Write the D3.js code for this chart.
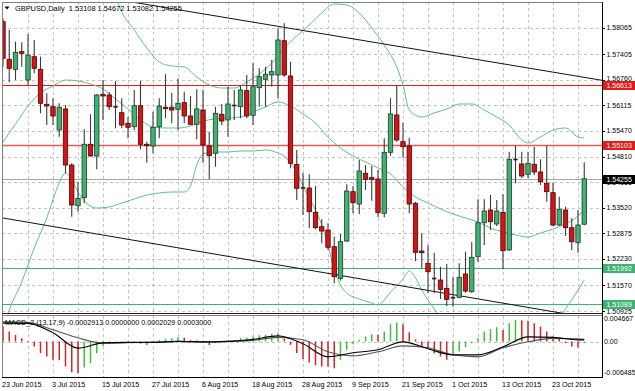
<!DOCTYPE html>
<html><head><meta charset="utf-8">
<script src="https://cdn.jsdelivr.net/npm/d3@7/dist/d3.min.js"></script>
<style>body{margin:0;background:#fff}svg{display:block;font-family:"Liberation Sans",Arial,sans-serif}</style>
</head><body><svg id="c" width="635" height="391"></svg>
<script>
const symbolTitle = "GBPUSD,Daily  1.53108 1.54672 1.53082 1.54255";
const macdTitle = "MACD_2 (13,17,9) -0.0002913 0.0000000 0.0002029 0.0003000";
const dateLabels = ["23 Jun 2015","3 Jul 2015","15 Jul 2015","27 Jul 2015","6 Aug 2015","18 Aug 2015","28 Aug 2015","9 Sep 2015","21 Sep 2015","1 Oct 2015","13 Oct 2015","23 Oct 2015"];
const dateIdx = [0,8,16,24,32,40,48,56,64,72,80,88];
const priceTicks = [1.58065,1.57405,1.56760,1.56115,1.55470,1.54810,1.54165,1.53520,1.52875,1.52230,1.51570,1.50925];
const macdTicks = [0.004667,0.0,-0.006485];
const macdTickLabels = ["0.004667","0.00","-0.006485"];

const open = [1.58225,1.57275,1.57022,1.57467,1.56751,1.57340,1.57022,1.56137,1.56077,1.55488,
1.56019,1.54603,1.53575,1.53777,1.55127,1.54831,1.56390,1.56372,1.56077,1.55925,
1.55657,1.55571,1.56102,1.55127,1.55084,1.55571,1.56062,1.56062,1.56011,1.56178,
1.55842,1.55632,1.55993,1.55084,1.54899,1.55885,1.55741,1.56112,1.56077,1.56481,
1.55859,1.56557,1.56769,1.56878,1.56878,1.57745,1.56853,1.54621,1.54030,1.54022,
1.53408,1.53044,1.52961,1.52539,1.51740,1.52683,1.53929,1.53618,1.54394,1.54283,
1.54250,1.53383,1.54924,1.55867,1.55192,1.55084,1.53636,1.52430,1.52119,1.51740,
1.51697,1.51488,1.51230,1.51260,1.51849,1.51402,1.52286,1.53145,1.53466,1.53113,
1.53408,1.52456,1.54748,1.54629,1.54368,1.54621,1.54427,1.54141,1.53904,1.53087,
1.53466,1.53019,1.52640,1.53108];
const high = [1.58311,1.58015,1.57719,1.57704,1.57914,1.57762,1.57340,1.56415,1.56289,1.56163,
1.56120,1.54646,1.54181,1.55506,1.55885,1.56398,1.56751,1.56448,1.56726,1.56289,
1.55824,1.56499,1.56726,1.55192,1.55950,1.56289,1.56895,1.56431,1.56794,1.56456,
1.56347,1.56516,1.56499,1.55445,1.56077,1.56145,1.56582,1.56499,1.56625,1.56878,
1.57173,1.57047,1.57088,1.57257,1.58058,1.58184,1.57214,1.54983,1.54409,1.54368,
1.54073,1.53231,1.53130,1.52792,1.52860,1.54116,1.54073,1.54730,1.54603,1.54578,
1.54477,1.55278,1.56289,1.56625,1.55672,1.55293,1.53668,1.52877,1.52582,1.52387,
1.52034,1.52102,1.51781,1.52119,1.52413,1.52665,1.53737,1.53737,1.53845,1.53719,
1.53863,1.54940,1.55091,1.54940,1.54940,1.55066,1.54748,1.55084,1.54156,1.53802,
1.53550,1.53257,1.53466,1.54672];
const low = [1.57088,1.56701,1.56751,1.57088,1.56625,1.56921,1.55910,1.55614,1.55614,1.55319,
1.54394,1.53297,1.53423,1.53636,1.54813,1.54495,1.55741,1.55993,1.55531,1.55531,
1.55278,1.55488,1.55000,1.54662,1.54899,1.55278,1.55784,1.55657,1.55488,1.55657,
1.55614,1.55253,1.54662,1.54242,1.54560,1.55614,1.55319,1.55741,1.55784,1.55784,
1.55614,1.56077,1.56077,1.56582,1.56289,1.56835,1.54520,1.53719,1.53340,1.53004,
1.52979,1.52625,1.52456,1.51614,1.51680,1.52665,1.53383,1.53365,1.53972,1.53701,
1.53282,1.53282,1.54838,1.55192,1.54788,1.53383,1.52178,1.51993,1.51361,1.51361,
1.51217,1.51040,1.51023,1.51235,1.51377,1.51377,1.52160,1.52582,1.52961,1.53062,
1.51968,1.52438,1.54141,1.54267,1.54267,1.54351,1.54098,1.53676,1.53062,1.53062,
1.52809,1.52456,1.52387,1.53082];
const close = [1.57300,1.57047,1.57451,1.57426,1.57383,1.57047,1.56163,1.56094,1.55842,1.56062,
1.54603,1.53593,1.53762,1.55127,1.54831,1.56372,1.56347,1.56077,1.56051,1.55614,
1.55556,1.56102,1.55127,1.55091,1.55556,1.56094,1.56026,1.55993,1.56163,1.55842,
1.55632,1.56019,1.55109,1.54838,1.55910,1.55715,1.56145,1.56087,1.56499,1.55842,
1.56582,1.56835,1.56895,1.56961,1.57762,1.56878,1.54646,1.54015,1.54005,1.53423,
1.53019,1.52936,1.52524,1.51781,1.52665,1.53946,1.53651,1.54452,1.54242,1.54242,
1.53398,1.54924,1.55892,1.55235,1.55066,1.53618,1.52397,1.52387,1.51907,1.51715,
1.51462,1.51210,1.51255,1.51766,1.51419,1.52271,1.53145,1.53441,1.53171,1.53441,
1.52438,1.54748,1.54730,1.54326,1.54646,1.54427,1.54181,1.53929,1.53087,1.53484,
1.53019,1.52665,1.53087,1.54255];

const bbUpperIdx = [17,18,19,21,23,25,27,29,31,33,35,37,39,41,43,45,47,49,51,53,55,57,59,61,63,64,65,67,69,71,73,75,77,79,81,83,84,86,88,90,92,93];
const bbUpper = [1.59152,1.58849,1.58470,1.58015,1.57560,1.57206,1.57105,1.57080,1.56827,1.56625,
1.56549,1.56549,1.56701,1.56903,1.57181,1.57560,1.57863,1.58141,1.58445,1.58672,
1.58647,1.58445,1.58065,1.57636,1.57080,1.56625,1.55993,1.55816,1.55918,1.56019,
1.56145,1.56145,1.55993,1.55816,1.55614,1.55235,1.55159,1.55311,1.55488,1.55538,
1.55311,1.55286];
const bbMidIdx = [0,2,4,6,8,10,12,14,16,18,20,22,24,26,28,30,32,34,36,38,40,42,44,46,48,50,52,54,56,58,60,62,64,66,68,70,72,74,76,78,80,82,84,86,88,90,92,93];
const bbMid = [1.55185,1.55640,1.56094,1.56423,1.56600,1.56751,1.56726,1.56650,1.56524,1.56271,
1.56019,1.55741,1.55564,1.55538,1.55538,1.55589,1.55715,1.55766,1.55791,1.55816,
1.55943,1.56069,1.56196,1.56094,1.55892,1.55665,1.55311,1.55033,1.54831,1.54679,
1.54528,1.54376,1.54048,1.53795,1.53643,1.53492,1.53365,1.53264,1.53163,1.53011,
1.52910,1.52835,1.52784,1.52885,1.52986,1.53113,1.53315,1.53466];
const bbLowIdx = [0,1,3,5,7,9,10,11,12,13,15,17,19,21,23,25,27,29,30,31,32,34,36,38,40,42,44,45,46,47,48,49,50,51,52,53,54,55,57,59,60,61,62,63,64,65,66,67,68,69,70,72,76,80,84,88,89,90,91,92,93];
const bbLow = [1.50434,1.50939,1.51647,1.52506,1.53264,1.54149,1.54402,1.54224,1.53921,1.53694,
1.53517,1.53542,1.53643,1.53744,1.53845,1.53896,1.53921,1.53921,1.54073,1.54603,
1.54881,1.54932,1.54932,1.54957,1.54957,1.54983,1.54907,1.54831,1.54654,1.54427,
1.54073,1.53770,1.53466,1.53087,1.52582,1.51950,1.51571,1.51369,1.51217,1.51116,
1.51066,1.51192,1.51394,1.51546,1.51723,1.51925,1.51748,1.51445,1.51192,1.50965,
1.50737,1.50308,1.50050,1.50000,1.50030,1.50308,1.50687,1.50965,1.51192,1.51445,1.51697];

const trendUpperIdx = [17,96], trendUpperPrice = [1.58818,1.56739];
const trendLowerIdx = [0,92], trendLowerPrice = [1.53264,1.50790];
const resistanceLevels = [1.56613,1.55103];
const supportLevels = [1.51992,1.51089];
const lastPrice = 1.54255;

const macdHist = [0.00274,0.00183,0.00122,0.00061,0.00010,-0.00091,-0.00213,-0.00274,-0.00335,-0.00340,
-0.00457,-0.00560,-0.00578,-0.00475,-0.00396,-0.00213,-0.00080,-0.00030,-0.00010,0.00005,
-0.00020,-0.00010,-0.00040,-0.00060,-0.00020,0.00030,0.00050,0.00060,0.00080,0.00070,
0.00030,0.00020,-0.00020,-0.00065,-0.00030,-0.00010,0.00010,0.00030,0.00065,0.00070,
0.00090,0.00115,0.00120,0.00140,0.00160,0.00050,-0.00060,-0.00210,-0.00320,-0.00385,
-0.00435,-0.00457,-0.00460,-0.00487,-0.00335,-0.00152,-0.00048,0.00031,0.00091,0.00135,
0.00122,0.00183,0.00318,0.00347,0.00318,0.00170,0.00040,-0.00091,-0.00122,-0.00213,
-0.00274,-0.00335,-0.00243,-0.00183,-0.00100,-0.00030,0.00061,0.00183,0.00226,0.00263,
0.00213,0.00335,0.00396,0.00390,0.00378,0.00335,0.00274,0.00183,0.00091,0.00049,
-0.00030,-0.00091,-0.00110,-0.00029];
const macdIdx = [0,4,8,12,16,20,24,28,32,36,40,44,48,52,56,60,64,68,72,76,80,84,88,92,93];
const macdMain = [0.003364,0.003327,0.001590,-0.001206,-0.000238,-0.000146,-0.000146,0.000037,-0.000055,0.000037,0.000402,0.001042,-0.000420,-0.002797,-0.002066,-0.001517,-0.000055,-0.001334,-0.002431,-0.002431,-0.000969,0.000859,0.000768,0.000311,0.000311];
const macdSignal = [0.003601,0.003510,0.002139,0.000676,-0.000292,-0.000201,-0.000146,0.000037,-0.000055,0.000037,0.000219,0.000768,0.000311,-0.001883,-0.002614,-0.001883,-0.000786,-0.001152,-0.002431,-0.002797,-0.001152,-0.000055,0.000585,0.000494,0.000402];

// ---------- layout ----------
const L = 2, R = 602, mainTop = 2, mainBot = 313, macdTop = 316, macdBot = 377;
const GREEN = "#3cb371", RED = "#d41414", BAND = "#5fbf8f";
const svg = d3.select("#c");
const x = d3.scaleLinear().domain([0, 96]).range([3, 603]);
const y = d3.scaleLinear().domain([1.50864, 1.58722]).range([mainBot, mainTop]);
const ym = d3.scaleLinear().domain([-0.006485, 0.004667]).range([macdBot, macdTop]);
const snap = v => Math.round(v) + 0.5;

const defs = svg.append("defs");
defs.append("clipPath").attr("id","cm").append("rect").attr("x",L).attr("y",mainTop).attr("width",R-L).attr("height",mainBot-mainTop);
defs.append("clipPath").attr("id","cd").append("rect").attr("x",L).attr("y",macdTop).attr("width",R-L).attr("height",macdBot-macdTop);

// grid
const gridX = d3.range(4, 96, 4);
const g = svg.append("g").attr("stroke","#c4c4c4").attr("stroke-dasharray","3,3").attr("shape-rendering","crispEdges");
gridX.forEach(i => {
  g.append("line").attr("x1",snap(x(i))).attr("x2",snap(x(i))).attr("y1",mainTop).attr("y2",mainBot);
  g.append("line").attr("x1",snap(x(i))).attr("x2",snap(x(i))).attr("y1",macdTop).attr("y2",macdBot);
});
priceTicks.forEach(p => g.append("line").attr("x1",L).attr("x2",R).attr("y1",snap(y(p))).attr("y2",snap(y(p))));
g.append("line").attr("x1",L).attr("x2",R).attr("y1",snap(ym(0))).attr("y2",snap(ym(0)));

// main panel
const mg = svg.append("g").attr("clip-path","url(#cm)");
resistanceLevels.forEach((p,k) => mg.append("line").attr("x1",L).attr("x2",R).attr("y1",snap(y(p))).attr("y2",snap(y(p)))
  .attr("stroke", k===0 ? "#e01c1c" : "#e65a5a").attr("stroke-width", k===0 ? 1.2 : 1.6));
supportLevels.forEach(p => mg.append("line").attr("x1",L).attr("x2",R).attr("y1",snap(y(p))).attr("y2",snap(y(p))).attr("stroke",GREEN).attr("stroke-width",1.2));
mg.append("line").attr("x1",L).attr("x2",R).attr("y1",snap(y(lastPrice))).attr("y2",snap(y(lastPrice))).attr("stroke","#a8a8a8");

const bandLine = d3.line().curve(d3.curveMonotoneX);
[[bbUpperIdx,bbUpper],[bbMidIdx,bbMid],[bbLowIdx,bbLow]].forEach(([ix,vals]) => {
  mg.append("path").attr("d", bandLine(ix.map((i,k)=>[x(i), y(vals[k])]))).attr("fill","none").attr("stroke",BAND).attr("stroke-width",1);
});
mg.append("line").attr("x1",x(trendUpperIdx[0])).attr("y1",y(trendUpperPrice[0])).attr("x2",x(trendUpperIdx[1])).attr("y2",y(trendUpperPrice[1])).attr("stroke","#111").attr("stroke-width",1);
mg.append("line").attr("x1",x(trendLowerIdx[0])).attr("y1",y(trendLowerPrice[0])).attr("x2",x(trendLowerIdx[1])).attr("y2",y(trendLowerPrice[1])).attr("stroke","#111").attr("stroke-width",1);

// candles
const cg = mg.append("g");
open.forEach((o,i) => {
  const c = close[i], cx = x(i);
  const up = c >= o;
  cg.append("line").attr("x1",cx).attr("x2",cx).attr("y1",y(high[i])).attr("y2",y(low[i])).attr("stroke","#3a3a3a").attr("stroke-width",1.1);
  const top = y(Math.max(o,c)), bot = y(Math.min(o,c));
  const h = bot - top;
  if (h < 1.2) {
    cg.append("rect").attr("x",cx-2.2).attr("y",top-0.6).attr("width",4.4).attr("height",1.6).attr("fill","#222");
  } else {
    cg.append("rect").attr("x",cx-2.2).attr("y",top).attr("width",4.4).attr("height",h)
      .attr("fill", up ? GREEN : RED).attr("stroke", up ? "#1d3a28" : "#4a0606").attr("stroke-width",0.8);
  }
});

// macd panel
const dg = svg.append("g").attr("clip-path","url(#cd)");
macdHist.forEach((v,i) => {
  const rising = i > 0 && v > macdHist[i-1];
  dg.append("line").attr("x1",x(i)).attr("x2",x(i)).attr("y1",ym(0)).attr("y2",ym(v))
    .attr("stroke", rising ? "#3cbf3c" : "#d42424").attr("stroke-width",1.5);
});
const ml = d3.line().curve(d3.curveMonotoneX);
dg.append("path").attr("d", ml(macdIdx.map((i,k)=>[x(i), ym(macdSignal[k])]))).attr("fill","none").attr("stroke","#555").attr("stroke-width",1.1);
dg.append("path").attr("d", ml(macdIdx.map((i,k)=>[x(i), ym(macdMain[k])]))).attr("fill","none").attr("stroke","#000").attr("stroke-width",1.1);

// frames
const fr = svg.append("g").attr("shape-rendering","crispEdges");
fr.append("line").attr("x1",L+0.5).attr("x2",L+0.5).attr("y1",mainTop).attr("y2",macdBot).attr("stroke","#808080");
fr.append("line").attr("x1",L).attr("x2",R).attr("y1",mainTop+0.5).attr("y2",mainTop+0.5).attr("stroke","#808080");
fr.append("line").attr("x1",L).attr("x2",R).attr("y1",mainBot+0.5).attr("y2",mainBot+0.5).attr("stroke","#202020");
fr.append("line").attr("x1",L).attr("x2",R).attr("y1",macdTop-0.5).attr("y2",macdTop-0.5).attr("stroke","#808080");
fr.append("line").attr("x1",L).attr("x2",R+1).attr("y1",macdBot+0.5).attr("y2",macdBot+0.5).attr("stroke","#000");
fr.append("line").attr("x1",R+0.5).attr("x2",R+0.5).attr("y1",mainTop).attr("y2",macdBot+1).attr("stroke","#000");

// price axis labels (drawn first so the level boxes sit on top, as in the terminal)
const ax = svg.append("g").attr("font-size","7px").attr("fill","#000");
priceTicks.forEach(p => {
  let yy = y(p);
  if (p === 1.56760) yy -= 1;
  if (p === 1.50925) yy += 0.5;
  ax.append("line").attr("x1",R).attr("x2",R+3).attr("y1",snap(y(p))).attr("y2",snap(y(p))).attr("stroke","#000");
  ax.append("text").attr("x",606.5).attr("y",yy).attr("dy","0.35em").text(p.toFixed(5));
});
macdTicks.forEach((v,k) => {
  const yy = k===0 ? macdTop+3 : (k===2 ? macdBot-4 : ym(v));
  ax.append("text").attr("x",604).attr("y",yy).attr("dy","0.35em").text(macdTickLabels[k]);
});
function box(p, bg) {
  const yy = snap(y(p));
  ax.append("rect").attr("x",R+1).attr("y",yy-4.5).attr("width",635-R-1).attr("height",9).attr("fill",bg);
  ax.append("text").attr("x",606.5).attr("y",yy).attr("dy","0.35em").attr("fill","#fff").text(p.toFixed(5));
}
resistanceLevels.forEach(p => box(p, "#e41b1b"));
box(lastPrice, "#000");
supportLevels.forEach(p => box(p, GREEN));

// date labels
dateIdx.forEach((i,k) => ax.append("text").attr("x",x(i)-1).attr("y",384).attr("dy","0.35em").attr("font-size","7.2px").text(dateLabels[k]));

// titles
svg.append("path").attr("d","M4.5,6.5 L9.5,6.5 L7,9.5 Z").attr("fill","#000");
svg.append("text").attr("x",15).attr("y",8.5).attr("dy","0.35em").attr("font-size","7.4px").attr("fill","#000").style("white-space","pre").text(symbolTitle);
svg.append("text").attr("x",5).attr("y",322).attr("dy","0.35em").attr("font-size","7.2px").attr("fill","#000").text(macdTitle);
</script></body></html>
